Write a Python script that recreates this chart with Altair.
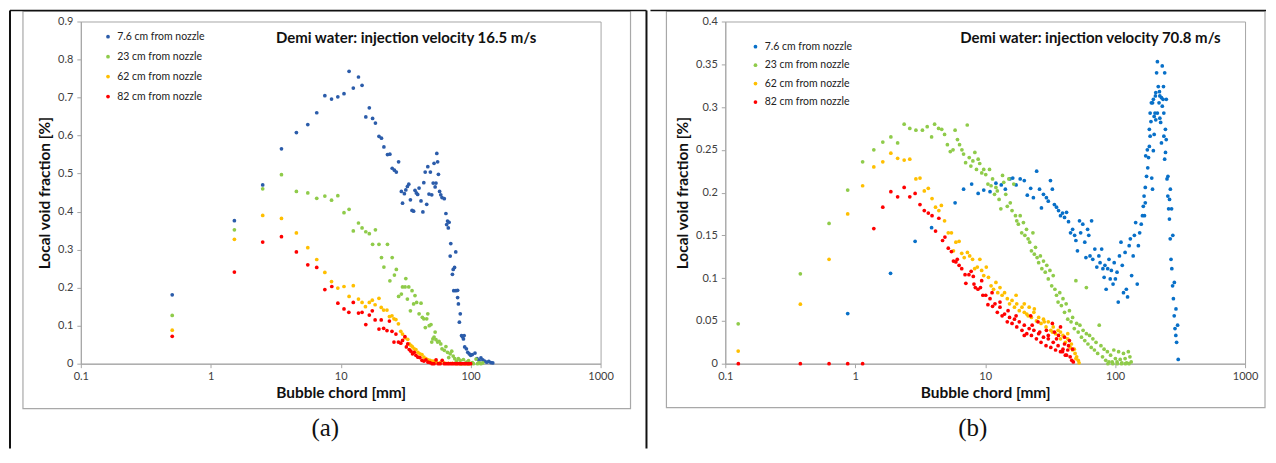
import altair as alt
import pandas as pd

SERIES = ["7.6 cm from nozzle", "23 cm from nozzle", "62 cm from nozzle", "82 cm from nozzle"]
COLORS_A = ["#2B5CAA", "#8FCB4A", "#FFBF00", "#FF0000"]
COLORS_B = ["#0870C8", "#8FCB4A", "#FFBF00", "#FF0000"]
SIZES_A = [14, 14, 14, 24]
SIZES_B = [14, 14, 14, 14]

TITLE_A = "Demi water: injection velocity 16.5 m/s"
TITLE_B = "Demi water: injection velocity 70.8 m/s"
CAPTION_A = "(a)"
CAPTION_B = "(b)"
X_TITLE = "Bubble chord [mm]"
Y_TITLE = "Local void fraction [%]"
X_TICKS = [0.1, 1, 10, 100, 1000]
Y_TICKS_A = [0, 0.1, 0.2, 0.3, 0.4, 0.5, 0.6, 0.7, 0.8, 0.9]
Y_TICKS_B = [0, 0.05, 0.1, 0.15, 0.2, 0.25, 0.3, 0.35, 0.4]

# ---- panel (a): 16.5 m/s ----
A_BLUE = [(0.505, 0.181), (1.52, 0.376), (2.51, 0.470), (3.5, 0.565), (4.56, 0.608), (5.58, 0.629),
          (6.54, 0.660), (7.55, 0.705), (8.5, 0.696), (9.5, 0.702), (10.6, 0.710), (11.6, 0.769),
          (12.5, 0.725), (13.7, 0.754), (14.6, 0.732), (15.6, 0.649), (16.6, 0.673), (17.6, 0.645),
          (18.5, 0.633), (19.7, 0.598), (20.6, 0.593), (21.5, 0.570), (22.9, 0.550), (23.9, 0.551),
          (24.9, 0.514), (25.9, 0.509), (26.8, 0.504), (27.9, 0.531), (29.3, 0.453), (29.9, 0.422),
          (30.9, 0.447), (31.7, 0.457), (32.6, 0.466), (33.4, 0.472), (34.4, 0.431), (35.4, 0.403),
          (36.4, 0.401), (37.3, 0.456), (38.2, 0.449), (39.1, 0.445), (40.1, 0.462), (41.5, 0.428),
          (42.9, 0.399), (43.6, 0.476), (44.7, 0.504), (45.9, 0.419), (46.8, 0.518), (47.8, 0.446),
          (49.0, 0.504), (50.2, 0.444), (51.5, 0.475), (52.3, 0.527), (53.3, 0.465), (54.1, 0.475),
          (54.9, 0.553), (55.7, 0.531), (56.5, 0.498), (57.7, 0.453), (58.9, 0.444), (60.2, 0.437),
          (62.7, 0.434), (64.5, 0.395), (65.4, 0.366), (66.4, 0.375), (67.3, 0.357), (68.3, 0.372),
          (70.3, 0.316), (69.6, 0.283), (72.4, 0.235), (73.4, 0.248), (75.2, 0.253), (76.8, 0.294),
          (74.1, 0.192), (77.0, 0.192), (79.4, 0.193), (79.4, 0.174), (80.5, 0.157), (81.9, 0.109),
          (83.2, 0.131), (85.1, 0.074), (86.5, 0.071), (88.0, 0.065), (89.1, 0.074), (90.0, 0.044),
          (92.7, 0.039), (95.0, 0.030), (97.5, 0.026), (100, 0.022), (103, 0.024), (108, 0.028),
          (112, 0.013), (116, 0.009), (120, 0.015), (124, 0.010), (128, 0.007), (133, 0.004),
          (138, 0.006), (143, 0.003), (148, 0.002)]
A_GREEN = [(0.505, 0.127), (1.52, 0.352), (2.51, 0.460), (3.5, 0.497), (4.56, 0.453), (5.58, 0.449),
           (6.54, 0.435), (7.55, 0.441), (8.5, 0.430), (9.5, 0.442), (10.6, 0.397), (11.6, 0.406),
           (12.5, 0.349), (13.7, 0.370), (14.6, 0.357), (15.6, 0.347), (16.6, 0.342), (18.5, 0.352),
           (17.6, 0.314), (19.7, 0.314), (22.9, 0.314), (20.6, 0.279), (24.9, 0.279), (21.5, 0.254),
           (23.9, 0.218), (25.9, 0.233), (26.8, 0.248), (27.9, 0.177), (29.3, 0.183), (29.9, 0.202),
           (31.3, 0.202), (31.7, 0.224), (32.6, 0.170), (33.4, 0.202), (34.4, 0.139), (35.4, 0.192),
           (36.4, 0.157), (37.3, 0.179), (38.4, 0.161), (40.1, 0.131), (41.5, 0.159), (42.5, 0.122),
           (43.6, 0.118), (44.8, 0.095), (45.9, 0.118), (46.8, 0.131), (48.0, 0.100), (49.5, 0.103),
           (50.2, 0.057), (51.2, 0.065), (52.3, 0.070), (53.3, 0.083), (54.1, 0.063), (55.7, 0.057),
           (57.1, 0.059), (58.9, 0.052), (60.2, 0.039), (62.7, 0.035), (64.5, 0.045), (66.4, 0.030),
           (67.8, 0.016), (69.6, 0.026), (71.5, 0.033), (73.4, 0.020), (75.5, 0.013), (77.7, 0.007),
           (80.5, 0.013), (83.2, 0.009), (88.0, 0.011), (92.7, 0.004), (96.4, 0.008), (103, 0.003),
           (110, 0.012), (116, 0.003), (124, 0.002), (85, 0), (95, 0), (105, 0), (113, 0), (120, 0)]
A_ORANGE = [(0.505, 0.088), (1.52, 0.327), (2.51, 0.390), (3.5, 0.382), (4.56, 0.344), (5.58, 0.305),
            (6.54, 0.274), (7.55, 0.240), (8.5, 0.216), (9.5, 0.199), (10.6, 0.203), (11.6, 0.177),
            (12.5, 0.205), (13.7, 0.170), (14.6, 0.161), (15.5, 0.150), (16.6, 0.161), (17.5, 0.167),
            (18.4, 0.155), (19.7, 0.172), (20.5, 0.148), (21.4, 0.141), (22.7, 0.141), (23.7, 0.124),
            (24.8, 0.126), (25.7, 0.118), (26.6, 0.116), (27.8, 0.105), (29.0, 0.085), (29.9, 0.078),
            (31.2, 0.068), (32.8, 0.064), (33.7, 0.052), (34.7, 0.048), (35.7, 0.044), (36.8, 0.039),
            (37.9, 0.037), (39.3, 0.030), (40.7, 0.026), (42.2, 0.024), (43.7, 0.017), (45.3, 0.013),
            (47.0, 0.010), (48.7, 0.009), (50.5, 0.007), (52.3, 0.007), (54.2, 0.004), (58.3, 0.003),
            (62.6, 0.002), (67.3, 0.001), (72.3, 0.001), (77.8, 0), (83.5, 0), (90, 0), (97, 0)]
A_RED = [(0.505, 0.072), (1.52, 0.241), (2.51, 0.320), (3.5, 0.334), (4.56, 0.294), (5.58, 0.260),
         (6.54, 0.253), (7.55, 0.195), (8.54, 0.203), (9.51, 0.159), (10.6, 0.144), (11.55, 0.135),
         (12.5, 0.161), (13.7, 0.133), (14.6, 0.135), (15.6, 0.103), (16.6, 0.128), (17.5, 0.139),
         (18.4, 0.115), (19.7, 0.091), (20.5, 0.115), (21.4, 0.093), (22.7, 0.087), (23.7, 0.112),
         (24.8, 0.085), (25.7, 0.057), (26.6, 0.078), (27.8, 0.057), (29.0, 0.054), (29.9, 0.061),
         (31.2, 0.071), (32.0, 0.044), (32.8, 0.052), (33.7, 0.037), (34.7, 0.033), (35.7, 0.026),
         (36.8, 0.030), (37.9, 0.022), (39.3, 0.017), (40.7, 0.016), (42.2, 0.009), (43.7, 0.007),
         (45.3, 0.010), (47.0, 0.004), (48.7, 0.003), (50.5, 0), (52.3, 0), (54.2, 0.010), (56.2, 0),
         (58.3, 0), (60.4, 0.009), (62.6, 0), (64.9, 0), (67.3, 0), (69.8, 0), (72.3, 0), (75.0, 0),
         (77.8, 0), (80.6, 0), (83.5, 0), (86.6, 0), (89.8, 0), (93.1, 0), (96.5, 0), (100, 0)]

# ---- panel (b): 70.8 m/s ----
B_BLUE = [(0.875, 0.0586), (1.87, 0.1056), (2.89, 0.143), (3.87, 0.159), (5.87, 0.188), (6.82, 0.204),
          (7.87, 0.210), (8.83, 0.199), (9.75, 0.203), (10.9, 0.201), (12.1, 0.211), (13.3, 0.209),
          (14.3, 0.204), (15.5, 0.216), (16.3, 0.217), (17.3, 0.209), (18.6, 0.216), (20.0, 0.214),
          (21.1, 0.197), (22.4, 0.205), (23.5, 0.194), (24.9, 0.225), (26.2, 0.204), (27.1, 0.182),
          (28.1, 0.198), (29.6, 0.194), (30.6, 0.190), (31.8, 0.214), (32.9, 0.204), (34.1, 0.186),
          (35.4, 0.183), (36.7, 0.179), (38.0, 0.173), (39.4, 0.176), (40.8, 0.171), (42.3, 0.177),
          (43.8, 0.166), (45.4, 0.153), (47.1, 0.157), (48.8, 0.150), (49.9, 0.144), (51.3, 0.132),
          (53.2, 0.167), (54.3, 0.153), (56.4, 0.163), (58.4, 0.142), (59.6, 0.124), (61.4, 0.157),
          (62.7, 0.150), (64.1, 0.126), (65.9, 0.167), (67.3, 0.122), (69.8, 0.134), (72.3, 0.113),
          (75.0, 0.126), (76.6, 0.118), (78.8, 0.134), (80.5, 0.111), (82.3, 0.101), (83.5, 0.115),
          (85.3, 0.087), (87.7, 0.111), (89.7, 0.122), (91.7, 0.099), (93.6, 0.109), (96.4, 0.093),
          (98.4, 0.118), (100.5, 0.099), (103.5, 0.107), (105.7, 0.072), (108, 0.126), (111, 0.142),
          (113.5, 0.115), (116, 0.083), (119.4, 0.130), (122, 0.087), (124.7, 0.078), (128.3, 0.138),
          (131, 0.146), (134, 0.103), (137.7, 0.126), (140.7, 0.150), (143.9, 0.165), (148, 0.093),
          (151, 0.138), (154.5, 0.153), (158.9, 0.163), (162.3, 0.173), (164.8, 0.184), (167.1, 0.196),
          (170.7, 0.206), (174.5, 0.219), (178.3, 0.229), (180.8, 0.241), (183.4, 0.254), (186.0, 0.266),
          (188.7, 0.283), (191.4, 0.217), (194, 0.204), (196.9, 0.249), (199.8, 0.268), (202.8, 0.293),
          (205.6, 0.317), (208.6, 0.340), (211.6, 0.353), (214.8, 0.324), (217.8, 0.305), (220.9, 0.287),
          (224.1, 0.282), (227.3, 0.258), (230.5, 0.348), (233.8, 0.309), (237.1, 0.293), (240.5, 0.239),
          (243.9, 0.274), (247.4, 0.262), (250.9, 0.216), (254.5, 0.196), (258.1, 0.181), (261.8, 0.169),
          (265.5, 0.146), (269.3, 0.122), (273.1, 0.111), (277.0, 0.091), (280.9, 0.076), (285.0, 0.056),
          (289.0, 0.041), (293.2, 0.033), (297.3, 0.025), (306, 0.005), (171.9, 0.243), (177.0, 0.250),
          (183.4, 0.274), (186.0, 0.293), (194.2, 0.305), (199.8, 0.289), (205.6, 0.285), (211.6, 0.293),
          (220.9, 0.313), (230.7, 0.301), (237.3, 0.266), (244.2, 0.247), (190.1, 0.305), (197.0, 0.309),
          (204.2, 0.313), (219.4, 0.318), (227.3, 0.311), (235.6, 0.324), (240.7, 0.340), (247.7, 0.309),
          (255.0, 0.219), (262.4, 0.192), (266.1, 0.204), (272.0, 0.181), (278.0, 0.150), (285.7, 0.095),
          (294.0, 0.064), (302.6, 0.045), (170.7, 0.188), (168.3, 0.173)]
B_GREEN = [(0.1257, 0.0466), (0.378, 0.105), (0.629, 0.164), (0.875, 0.203), (1.14, 0.236), (1.39, 0.250),
           (1.63, 0.259), (1.88, 0.265), (2.12, 0.258), (2.38, 0.280), (2.63, 0.275), (2.93, 0.273),
           (3.29, 0.273), (3.58, 0.277), (3.87, 0.265), (4.08, 0.280), (4.38, 0.275), (4.63, 0.274),
           (4.87, 0.268), (5.12, 0.256), (5.39, 0.248), (5.66, 0.250), (5.87, 0.273), (6.12, 0.262),
           (6.35, 0.256), (6.62, 0.250), (6.82, 0.245), (7.07, 0.235), (7.28, 0.279), (7.54, 0.241),
           (7.76, 0.231), (8.04, 0.237), (8.33, 0.247), (8.57, 0.227), (8.83, 0.239), (9.08, 0.234),
           (9.41, 0.223), (9.75, 0.227), (10.1, 0.221), (10.5, 0.210), (10.8, 0.227), (11.1, 0.208),
           (11.4, 0.216), (11.8, 0.198), (12.1, 0.206), (12.4, 0.202), (12.8, 0.192), (13.2, 0.181),
           (13.6, 0.220), (13.9, 0.212), (14.4, 0.198), (14.8, 0.184), (15.2, 0.216), (15.6, 0.188),
           (16.1, 0.179), (16.6, 0.210), (17.1, 0.173), (17.5, 0.167), (18.0, 0.163), (18.6, 0.173),
           (19.1, 0.153), (19.7, 0.165), (20.2, 0.150), (20.8, 0.157), (21.4, 0.146), (22.0, 0.142),
           (22.7, 0.132), (23.3, 0.153), (23.9, 0.128), (24.4, 0.136), (25.1, 0.124), (25.8, 0.118),
           (26.6, 0.126), (27.3, 0.111), (28.1, 0.120), (29.0, 0.107), (29.8, 0.115), (30.6, 0.099),
           (31.5, 0.109), (32.5, 0.091), (33.4, 0.103), (34.4, 0.087), (35.4, 0.080), (36.4, 0.072),
           (37.5, 0.083), (38.6, 0.068), (39.7, 0.076), (40.8, 0.060), (42.0, 0.070), (43.2, 0.052),
           (44.5, 0.062), (45.8, 0.049), (47.1, 0.054), (48.5, 0.041), (49.9, 0.097), (50.6, 0.047),
           (52.0, 0.037), (53.6, 0.045), (55.1, 0.031), (56.7, 0.039), (58.4, 0.027), (60.1, 0.089),
           (60.1, 0.035), (61.8, 0.023), (63.6, 0.033), (65.5, 0.019), (67.4, 0.029), (69.3, 0.016),
           (71.3, 0.025), (73.4, 0.012), (75.5, 0.045), (77.8, 0.021), (80.0, 0.008), (82.3, 0.017),
           (84.7, 0.004), (87.2, 0.014), (89.7, 0.002), (92.3, 0.010), (95.0, 0.002), (97.7, 0.016),
           (100.5, 0.006), (103.5, 0.002), (106.4, 0.014), (109.5, 0.005), (112.7, 0.001), (116, 0.012),
           (119.4, 0.006), (122.8, 0.001), (126.4, 0.014), (130, 0.008), (133, 0.002), (88, 0), (96, 0),
           (104, 0), (112, 0), (120, 0), (128, 0)]
B_ORANGE = [(0.1257, 0.0148), (0.378, 0.0695), (0.629, 0.122), (0.875, 0.175), (1.14, 0.208), (1.39, 0.230),
            (1.63, 0.236), (1.88, 0.246), (2.12, 0.240), (2.38, 0.238), (2.63, 0.239), (2.93, 0.216),
            (3.15, 0.217), (3.4, 0.202), (3.65, 0.205), (3.9, 0.193), (4.15, 0.183), (4.4, 0.179),
            (4.6, 0.185), (4.87, 0.167), (5.2, 0.153), (5.5, 0.153), (5.7, 0.132), (5.95, 0.142),
            (6.3, 0.143), (6.6, 0.129), (6.9, 0.124), (7.3, 0.130), (7.6, 0.126), (8.0, 0.122),
            (8.3, 0.111), (8.7, 0.113), (9.1, 0.122), (9.4, 0.109), (9.75, 0.103), (10.2, 0.113),
            (10.6, 0.101), (11.1, 0.091), (11.6, 0.087), (12.1, 0.095), (12.5, 0.083), (13.0, 0.089),
            (13.5, 0.080), (14.1, 0.083), (14.8, 0.076), (15.4, 0.070), (16.1, 0.074), (16.8, 0.066),
            (17.5, 0.070), (18.3, 0.062), (19.2, 0.066), (20.0, 0.060), (20.9, 0.058), (21.8, 0.066),
            (22.7, 0.054), (23.7, 0.060), (24.8, 0.050), (25.8, 0.054), (26.9, 0.047), (28.1, 0.052),
            (29.4, 0.043), (30.6, 0.049), (32.0, 0.039), (33.4, 0.043), (34.8, 0.035), (36.4, 0.039),
            (38.0, 0.029), (39.7, 0.033), (41.4, 0.025), (43.2, 0.029), (45.1, 0.019), (47.1, 0.016),
            (49.2, 0.012), (50.6, 0.008), (52.0, 0.004), (52.8, 0.001), (21.4, 0.056), (28.5, 0.049),
            (32.9, 0.037), (38.0, 0.037), (43.2, 0.035), (46.1, 0.023), (48.5, 0.017), (49.9, 0.006),
            (20.0, 0.070), (23.9, 0.064), (17.3, 0.080)]
B_RED = [(0.126, 0), (0.378, 0), (0.629, 0), (0.875, 0), (1.14, 0), (1.39, 0.158), (1.63, 0.183),
         (1.88, 0.201), (2.12, 0.195), (2.38, 0.206), (2.63, 0.195), (2.89, 0.199), (3.15, 0.186),
         (3.4, 0.179), (3.65, 0.176), (3.9, 0.173), (4.15, 0.155), (4.4, 0.170), (4.7, 0.144),
         (4.9, 0.148), (5.2, 0.135), (5.5, 0.131), (5.7, 0.120), (5.95, 0.119), (6.3, 0.115),
         (6.6, 0.111), (7.0, 0.104), (7.1, 0.094), (7.5, 0.104), (7.8, 0.108), (8.1, 0.102),
         (8.4, 0.089), (8.8, 0.087), (9.2, 0.089), (9.6, 0.080), (10.1, 0.080), (10.5, 0.069),
         (10.9, 0.076), (11.4, 0.067), (11.9, 0.070), (12.4, 0.060), (13.0, 0.066), (13.5, 0.056),
         (14.1, 0.058), (14.8, 0.049), (15.4, 0.054), (16.1, 0.047), (16.8, 0.052), (17.5, 0.043),
         (18.3, 0.049), (19.2, 0.039), (20.0, 0.045), (20.9, 0.035), (21.8, 0.041), (22.7, 0.033),
         (23.7, 0.039), (24.8, 0.029), (25.8, 0.035), (26.9, 0.025), (28.1, 0.031), (29.4, 0.021),
         (30.6, 0.029), (32.0, 0.019), (33.4, 0.025), (34.8, 0.016), (36.4, 0.021), (38.0, 0.014),
         (39.7, 0.017), (41.4, 0.010), (43.2, 0.016), (45.1, 0.008), (46.4, 0.004), (47.7, 0.002),
         (20.0, 0.033), (23.0, 0.045), (26.3, 0.037), (30.6, 0.033), (35.4, 0.029), (40.8, 0.023),
         (43.8, 0.021), (47.1, 0.017), (42.3, 0.010), (39.4, 0.014), (36.7, 0.033), (34.1, 0.037),
         (22.4, 0.056), (25.5, 0.049), (29.6, 0.039), (32.9, 0.047), (38.0, 0.043), (40.8, 0.031),
         (44.5, 0.027), (17.3, 0.056), (15.0, 0.062), (13.0, 0.072), (11.3, 0.083), (9.4, 0.097),
         (8.2, 0.093), (6.1, 0.122)]

FONT = "Lato"
W, H = 521, 343


def to_df(groups):
    rows = []
    for name, pts in zip(SERIES, groups):
        for x, y in pts:
            rows.append({"chord": x, "void": y, "series": name})
    return pd.DataFrame(rows)


def one(v):
    return pd.DataFrame({"t": [v]})


def hrule(x1, x2, y, color, w):
    return alt.Chart(one(0)).mark_rule(color=color, strokeWidth=w).encode(
        x=alt.value(x1), x2=alt.value(x2), y=alt.value(y))


def vrule(x, y1, y2, color, w):
    return alt.Chart(one(0)).mark_rule(color=color, strokeWidth=w).encode(
        x=alt.value(x), y=alt.value(y1), y2=alt.value(y2))


def panel(groups, colors, sizes, ydom, yticks, title, caption, legend_xy, row_pad,
          title_x, cap_x, box, top_line, verticals):
    df = to_df(groups)
    pts = alt.Chart(df).mark_circle(opacity=1).encode(
        x=alt.X("chord:Q", scale=alt.Scale(type="log", domain=[0.1, 1000]),
                axis=alt.Axis(values=X_TICKS, format="~g", title=X_TITLE, labelFlush=False)),
        y=alt.Y("void:Q", scale=alt.Scale(domain=ydom, nice=False),
                axis=alt.Axis(values=yticks, format="~g", title=Y_TITLE, labelFlush=False)),
        color=alt.Color("series:N", scale=alt.Scale(domain=SERIES, range=colors),
                        legend=alt.Legend(title=None, orient="none", legendX=legend_xy[0],
                                          legendY=legend_xy[1], symbolType="circle",
                                          symbolSize=14, symbolStrokeWidth=0, labelFont=FONT,
                                          labelFontSize=10.5, labelColor="#222222",
                                          rowPadding=row_pad, labelOffset=4, padding=0)),
        size=alt.Size("series:N", scale=alt.Scale(domain=SERIES, range=sizes), legend=None),
    )
    ttl = alt.Chart(one(title)).mark_text(font=FONT, fontSize=15, fontWeight="bold",
                                          align="center", baseline="middle", color="#111111").encode(
        text="t:N", x=alt.value(title_x), y=alt.value(17))
    cap = alt.Chart(one(caption)).mark_text(font="Liberation Serif", fontSize=25,
                                            align="center", baseline="middle", color="#111111").encode(
        text="t:N", x=alt.value(cap_x), y=alt.value(407))
    frame = alt.Chart(one(0)).mark_rect(fillOpacity=0, stroke="#A8A8A8", strokeWidth=1.2).encode(
        x=alt.value(box[0]), x2=alt.value(box[1]), y=alt.value(box[2]), y2=alt.value(box[3]))
    layers = [frame, pts, ttl, cap, hrule(top_line[0], top_line[1], -11, "#111111", 1.5)]
    for vx in verticals:
        layers.append(vrule(vx, -11, 428, "#111111", 2))
    return alt.layer(*layers).properties(width=W, height=H)


left = panel([A_BLUE, A_GREEN, A_ORANGE, A_RED], COLORS_A, SIZES_A, [0, 0.9], Y_TICKS_A,
             TITLE_A, CAPTION_A, (22, 10), 9, 326, 245, (-58, 551, -10, 388), (-71, 567), [-71, 567])
right = panel([B_BLUE, B_GREEN, B_ORANGE, B_RED], COLORS_B, SIZES_B, [0, 0.4], Y_TICKS_B,
              TITLE_B, CAPTION_B, (25, 20), 7.5, 366, 248, (-59, 541, -10, 387), (-75, 542), [])

chart = alt.hconcat(left, right, spacing=0, padding=0).resolve_scale(
    color="independent", size="independent"
).configure_view(stroke="#A6A6A6", strokeWidth=1).configure_axis(
    domainColor="#A6A6A6", tickColor="#A6A6A6", tickSize=4, grid=False,
    labelFont=FONT, labelFontSize=11, labelColor="#404040",
    titleFont=FONT, titleFontSize=15.5, titleFontWeight="bold", titleColor="#111111"
).configure_axisX(labelPadding=3, titlePadding=4).configure_axisY(labelPadding=4, titlePadding=5)

chart.save("out.html", embed_options={"renderer": "svg", "actions": False})
